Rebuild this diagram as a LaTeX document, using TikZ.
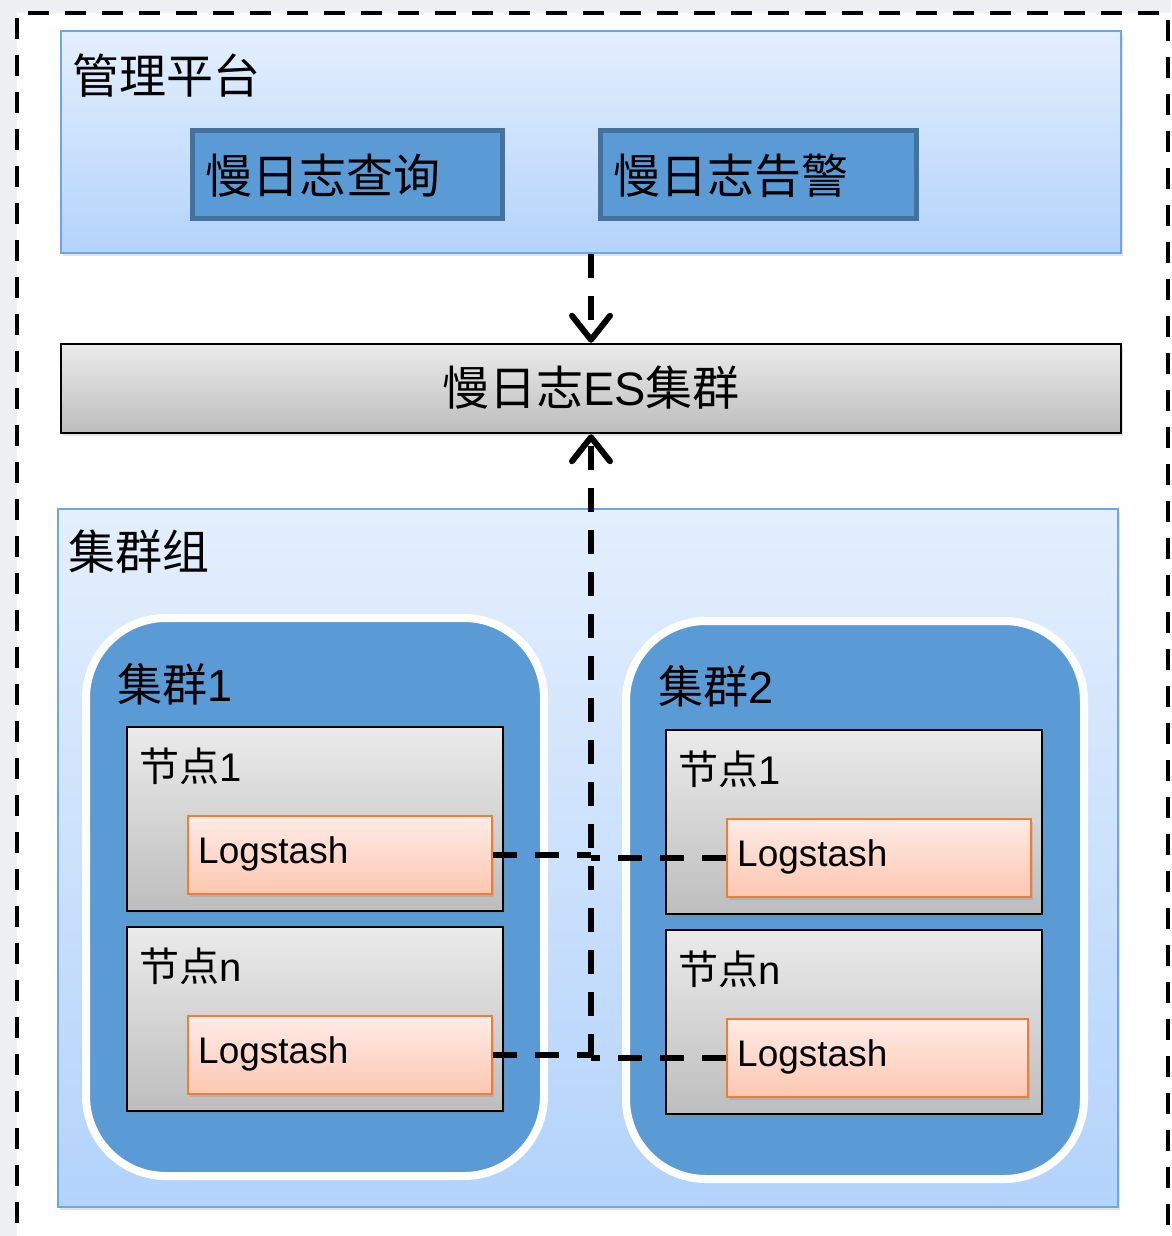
\documentclass[tikz,border=0pt]{standalone}
\usepackage{fontspec}
\setmainfont{Liberation Sans}
\newfontfamily\cjk{Noto Sans CJK SC}
\usetikzlibrary{arrows.meta,shadows}
\definecolor{bggray}{HTML}{EEF1F4}
\definecolor{pltop}{HTML}{E4EFFD}
\definecolor{plbot}{HTML}{B3D3FB}
\definecolor{plborder}{HTML}{6EA6E0}
\definecolor{midblue}{HTML}{5B9BD5}
\definecolor{darkblue}{HTML}{44729D}
\definecolor{graytop}{HTML}{EBEBEB}
\definecolor{graybot}{HTML}{BDBDBD}
\definecolor{ortop}{HTML}{FFEBE6}
\definecolor{orbot}{HTML}{FCC7B2}
\definecolor{orborder}{HTML}{EF7D37}
\tikzset{
  softshadow/.style={drop shadow={opacity=0.22,shadow xshift=2pt,shadow yshift=-3pt}},
  panel/.style={draw=plborder,line width=2pt,top color=pltop,bottom color=plbot,softshadow,inner sep=0pt},
  funcbox/.style={draw=darkblue,line width=5pt,fill=midblue,inner sep=0pt},
  graybox/.style={draw=black,line width=2.5pt,top color=graytop,bottom color=graybot,softshadow,inner sep=0pt},
  clusterbox/.style={draw=white,line width=8pt,fill=midblue,rounded corners=80pt,softshadow,inner sep=0pt},
  logbox/.style={draw=orborder,line width=2.2pt,top color=ortop,bottom color=orbot,softshadow,inner sep=0pt},
  bigtxt/.style={inner sep=0pt,anchor=west,font=\fontsize{47}{52}\selectfont},
  midtxt/.style={inner sep=0pt,anchor=west,font=\fontsize{45}{50}\selectfont},
  nodetxt/.style={inner sep=0pt,anchor=west,font=\fontsize{40}{46}\selectfont},
  logtxt/.style={inner sep=0pt,anchor=base west,font=\fontsize{37}{42}\selectfont},
  flow/.style={line width=6pt,dash pattern=on 24pt off 18pt},
  tipend/.style={-{Straight Barb[length=24pt,width=38pt,line width=6pt,round]}}
}
\begin{document}
\begin{tikzpicture}[x=1pt,y=-1pt]
\useasboundingbox (0,0) rectangle (1171,1236);
\fill[bggray] (0,0) rectangle (1171,1236);
\fill[white] (17,13) rectangle (1171,1236);
\draw[line width=4.5pt,dash pattern=on 21pt off 16pt] (17,1260) -- (17,13) -- (1168,13) -- (1168,1260);

% management platform
\node[panel,minimum width=1060pt,minimum height=222pt] (mgmt) at (591,142) {};
\node[bigtxt] (mgmtT) at (72,76) {\cjk 管理平台};
\node[funcbox,minimum width=310pt,minimum height=88pt] (query) at (347.5,174.5) {};
\node[bigtxt] (queryT) at (205,176) {\cjk 慢日志查询};
\node[funcbox,minimum width=316pt,minimum height=88pt] (alarm) at (758.5,174.5) {};
\node[bigtxt] (alarmT) at (613,176) {\cjk 慢日志告警};

% ES cluster
\node[graybox,minimum width=1060pt,minimum height=89pt] (es) at (591,388.5) {};
\node[inner sep=0pt,font=\fontsize{47}{52}\selectfont] (esT) at (591,388) {{\cjk 慢日志}ES{\cjk 集群}};

% cluster group
\node[panel,minimum width=1060pt,minimum height=698pt] (grp) at (588,858) {};
\node[bigtxt] (grpT) at (68,552) {\cjk 集群组};

% cluster 1
\node[clusterbox,minimum width=458pt,minimum height=558pt] (c1) at (315,897) {};
\node[midtxt] (c1T) at (117,684) {{\cjk 集群}1};
\node[graybox,minimum width=376pt,minimum height=184pt] (n11) at (315,819) {};
\node[nodetxt] (n11T) at (139,766) {{\cjk 节点}1};
\node[logbox,minimum width=304pt,minimum height=78pt] (l11) at (340,855) {};
\node[logtxt] (l11T) at (198,863) {Logstash};
\node[graybox,minimum width=376pt,minimum height=184pt] (n1n) at (315,1019) {};
\node[nodetxt] (n1nT) at (139,966) {{\cjk 节点}n};
\node[logbox,minimum width=304pt,minimum height=78pt] (l1n) at (340,1055) {};
\node[logtxt] (l1nT) at (198,1063) {Logstash};

% cluster 2
\node[clusterbox,minimum width=458pt,minimum height=558pt] (c2) at (855,900) {};
\node[midtxt] (c2T) at (658,686) {{\cjk 集群}2};
\node[graybox,minimum width=376pt,minimum height=184pt] (n21) at (854,822) {};
\node[nodetxt] (n21T) at (678,769) {{\cjk 节点}1};
\node[logbox,minimum width=304pt,minimum height=78pt] (l21) at (879,858) {};
\node[logtxt] (l21T) at (737,866) {Logstash};
\node[graybox,minimum width=376pt,minimum height=184pt] (n2n) at (854,1022) {};
\node[nodetxt] (n2nT) at (678,969) {{\cjk 节点}n};
\node[logbox,minimum width=301pt,minimum height=78pt] (l2n) at (877.5,1058) {};
\node[logtxt] (l2nT) at (737,1066) {Logstash};

% connectors
\coordinate (vbot) at (591,1058);
\draw[flow,tipend] (mgmt.south) -- (es.north);
\draw[flow,tipend] (vbot) -- (es.south);
\draw[flow] (l11.east) -- (l11.east -| vbot);
\draw[flow] (l21.west) -- (l21.west -| vbot);
\draw[flow] (l1n.east) -- (l1n.east -| vbot);
\draw[flow] (l2n.west) -- (l2n.west -| vbot);
\end{tikzpicture}
\end{document}
